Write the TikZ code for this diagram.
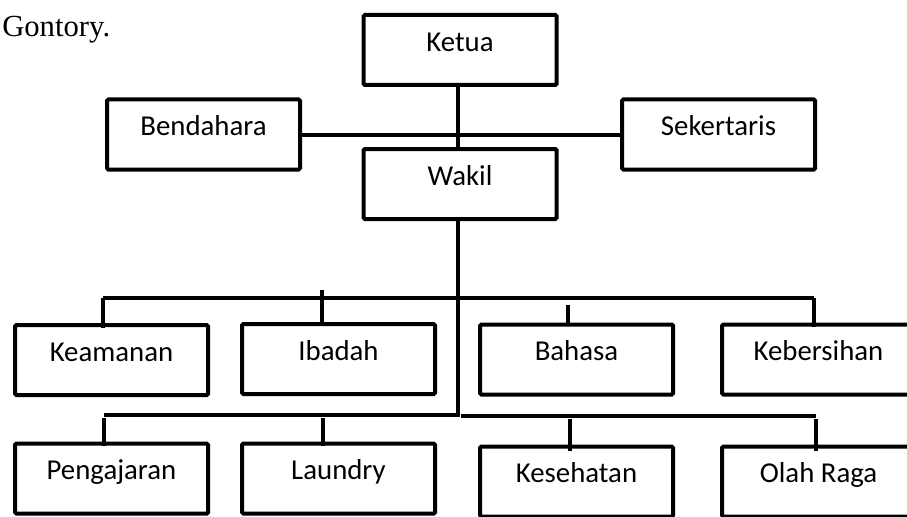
\documentclass[tikz,border=0pt]{standalone}
\usepackage{fontspec}
\setmainfont{Carlito}
\newfontfamily\serifgon{Liberation Serif}
\begin{document}
\begin{tikzpicture}[x=0.75pt,y=-0.75pt,
  orgbox/.style={draw=black,line width=3pt,rounded corners=1pt,fill=white,
    minimum width=144.75pt,minimum height=52.5pt,inner sep=0pt,
    font=\fontsize{21.6}{24}\selectfont,text height=0.6em,text depth=0.4em},
  link/.style={draw=black,line width=3pt}]
\useasboundingbox (0,0) rectangle (907,517);
\clip (0,0) rectangle (907,517);
\node[anchor=base west,inner sep=0pt,font=\serifgon\fontsize{23}{26}\selectfont] (title) at (2,37) {Gontory.};
% links first (behind boxes)
\coordinate (vb) at (458,415);
\coordinate (ub) at (458,298);
\coordinate (ulw) at (103,298);
\coordinate (ule) at (814,298);
\coordinate (llw) at (104,415);
\coordinate (lre0) at (461,416);
\coordinate (lre) at (816,416);
% boxes
\node[orgbox] (ketua) at (460,50) {Ketua};
\node[orgbox] (bend) at (203.5,134.5) {Bendahara};
\node[orgbox] (sek) at (718.5,134.5) {Sekertaris};
\node[orgbox] (wakil) at (460,184) {Wakil};
\node[orgbox] (keam) at (111.5,360) {Keamanan};
\node[orgbox] (ibad) at (338.5,359) {Ibadah};
\node[orgbox] (bhs) at (576.5,359.5) {Bahasa};
\node[orgbox] (keb) at (818.5,359.5) {Kebersihan};
\node[orgbox] (peng) at (111.5,478.5) {Pengajaran};
\node[orgbox] (laun) at (338.5,478.5) {Laundry};
\node[orgbox] (kes) at (576.5,481.5) {Kesehatan};
\node[orgbox] (olah) at (818.5,481.5) {Olah Raga};
% connectors
\draw[link] (ketua.south -| wakil.north) ++(-2,0) coordinate (kv) -- (kv |- wakil.north);
\draw[link] (bend.east) -- (sek.west);
\draw[link] (wakil.south -| vb) -- (vb) -- (vb -| llw) -- (llw);
\draw[link] (ulw) -- (ule);
\draw[link] (ulw) -- ([yshift=-3.5pt]ulw |- keam.north);
\draw[link] (ule) -- ([yshift=-3.5pt]ule |- keb.north);
\coordinate (ti) at (322,290);
\draw[link] (ti) -- (ti |- ibad.north);
\coordinate (tb) at (568,305);
\draw[link] (tb) -- (tb |- bhs.north);
\draw[link] (lre0) -- (lre);
\coordinate (tp) at (104,418);
\draw[link] (tp) -- ([yshift=-3pt]tp |- peng.north);
\coordinate (tl) at (323,418);
\draw[link] (tl) -- ([yshift=-3pt]tl |- laun.north);
\coordinate (tk) at (570,419);
\draw[link] (tk) -- ([yshift=-4.5pt]tk |- kes.north);
\coordinate (to) at (816,419);
\draw[link] (to) -- ([yshift=-4.5pt]to |- olah.north);
\end{tikzpicture}
\end{document}
